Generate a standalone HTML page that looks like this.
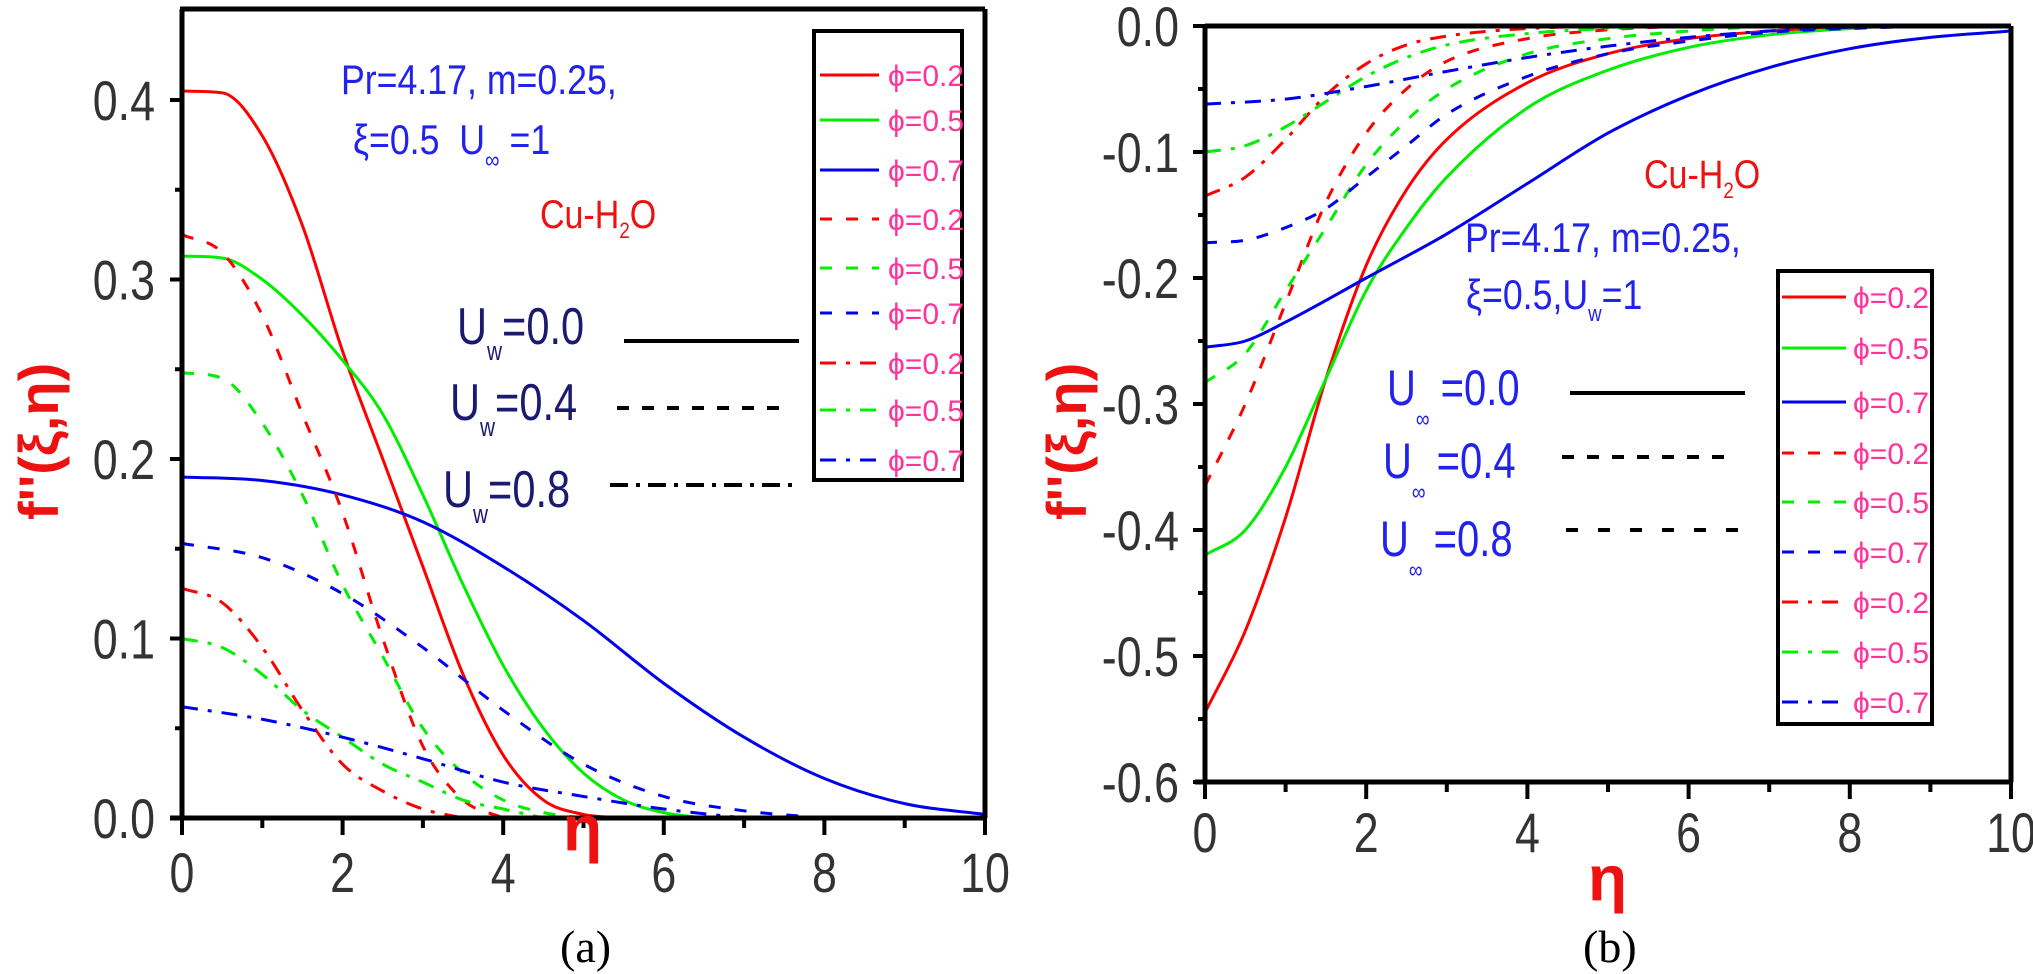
<!DOCTYPE html>
<html><head><meta charset="utf-8">
<style>
html,body{margin:0;padding:0;background:#fff;}
svg{display:block;}
text{font-family:"Liberation Sans",sans-serif;}
.tk{font-size:56px;fill:#333;}
.ph{font-size:30px;fill:#ff3399;}
</style></head>
<body>
<svg id="s" width="2033" height="974" viewBox="0 0 2033 974" xmlns="http://www.w3.org/2000/svg">
<g id="curves" fill="none" stroke-width="3"></g>
<g stroke="#000" stroke-width="5" fill="none">
<line x1="182" y1="9" x2="182" y2="818"/>
<line x1="170" y1="818" x2="985" y2="818"/>
<line x1="180" y1="9" x2="985" y2="9"/>
<line x1="985" y1="9" x2="985" y2="818"/>
<rect x="814" y="31" width="148" height="449" stroke-width="4"/>
<line x1="1205" y1="26" x2="1205" y2="782"/>
<line x1="1205" y1="26" x2="2011" y2="26"/>
<line x1="2011" y1="26" x2="2011" y2="782"/>
<line x1="1195" y1="782" x2="2011" y2="782"/>
<rect x="1778" y="271" width="154" height="453" stroke-width="4"/>
</g>
<g id="ticks" stroke="#000" stroke-width="4"></g>
<g id="labels"></g>

<text x="341" y="94" font-size="42" fill="#2222ee" transform="translate(341,94) scale(0.85,1) translate(-341,-94)">Pr=4.17, m=0.25,</text>
<text x="353" y="154" font-size="42" fill="#2222ee" transform="translate(353,154) scale(0.85,1) translate(-353,-154)">ξ=0.5&#160;&#160;U<tspan font-size="24" dy="14">∞</tspan><tspan dy="-14"> =1</tspan></text>
<text x="540" y="228" font-size="40" fill="#ee1111" transform="translate(540,228) scale(0.85,1) translate(-540,-228)">Cu-H<tspan font-size="22" dy="10">2</tspan><tspan dy="-10">O</tspan></text>
<g fill="#1a1a70" font-size="52">
<text x="457" y="344" transform="translate(457,344) scale(0.8,1) translate(-457,-344)">U<tspan font-size="26" dy="16">w</tspan><tspan dy="-16">=0.0</tspan></text>
<text x="450" y="420" transform="translate(450,420) scale(0.8,1) translate(-450,-420)">U<tspan font-size="26" dy="16">w</tspan><tspan dy="-16">=0.4</tspan></text>
<text x="443" y="507" transform="translate(443,507) scale(0.8,1) translate(-443,-507)">U<tspan font-size="26" dy="16">w</tspan><tspan dy="-16">=0.8</tspan></text>
</g>
<g stroke="#000" stroke-width="4">
<line x1="624" y1="341" x2="799" y2="341"/>
<line x1="617" y1="408" x2="785" y2="408" stroke-dasharray="12 13"/>
<line x1="610" y1="485" x2="800" y2="485" stroke-dasharray="18 8 4 8"/>
</g>
<text x="1644" y="188" font-size="40" fill="#ee1111" transform="translate(1644,188) scale(0.85,1) translate(-1644,-188)">Cu-H<tspan font-size="22" dy="10">2</tspan><tspan dy="-10">O</tspan></text>
<text x="1465" y="252" font-size="42" fill="#2222ee" transform="translate(1465,252) scale(0.85,1) translate(-1465,-252)">Pr=4.17, m=0.25,</text>
<text x="1466" y="309" font-size="42" fill="#2222ee" transform="translate(1466,309) scale(0.85,1) translate(-1466,-309)">ξ=0.5,U<tspan font-size="22" dy="12">w</tspan><tspan dy="-12">=1</tspan></text>
<g fill="#2222ee" font-size="50">
<text x="1387" y="405" transform="translate(1387,405) scale(0.8,1) translate(-1387,-405)">U<tspan font-size="24" dy="22">∞</tspan><tspan dy="-22"> =0.0</tspan></text>
<text x="1383" y="478" transform="translate(1383,478) scale(0.8,1) translate(-1383,-478)">U<tspan font-size="24" dy="22">∞</tspan><tspan dy="-22"> =0.4</tspan></text>
<text x="1380" y="556" transform="translate(1380,556) scale(0.8,1) translate(-1380,-556)">U<tspan font-size="24" dy="22">∞</tspan><tspan dy="-22"> =0.8</tspan></text>
</g>
<g stroke="#000" stroke-width="4">
<line x1="1570" y1="393" x2="1745" y2="393"/>
<line x1="1562" y1="457" x2="1731" y2="457" stroke-dasharray="12 13"/>
<line x1="1566" y1="530" x2="1742" y2="530" stroke-dasharray="12 20"/>
</g>
<text font-size="56" font-weight="bold" fill="#ee1111" transform="translate(58,520) rotate(-90)">f''(ξ,η)</text>
<text font-size="56" font-weight="bold" fill="#ee1111" transform="translate(1086,520) rotate(-90)">f''(ξ,η)</text>
<text x="563" y="850" font-size="64" font-weight="bold" fill="#ee1111">η</text>
<text x="1588" y="900" font-size="64" font-weight="bold" fill="#ee1111">η</text>
<text x="560" y="962" font-size="46" fill="#000" style="font-family:'Liberation Serif',serif">(a)</text>
<text x="1583" y="962" font-size="46" fill="#000" style="font-family:'Liberation Serif',serif">(b)</text>
</svg>
<script>
var NS="http://www.w3.org/2000/svg";
function el(p,t,a,txt){var e=document.createElementNS(NS,t);for(var k in a)e.setAttribute(k,a[k]);if(txt!==undefined)e.textContent=txt;document.getElementById(p).appendChild(e);return e;}
var R="#ff0000",G="#00ee00",B="#0000ee";
var D={solid:"",dash:"12 14",dd:"16 10 4 10"};
function path(pts,fx,fy){
 var n=pts.length,xs=pts.map(function(p){return p[0]}),ys=pts.map(function(p){return p[1]});
 var d=[],m=[];for(var i=0;i<n-1;i++)d.push((ys[i+1]-ys[i])/(xs[i+1]-xs[i]));
 m[0]=d[0];m[n-1]=d[n-2];
 for(var i=1;i<n-1;i++){m[i]=(d[i-1]*d[i]<=0)?0:(d[i-1]+d[i])/2;}
 for(var i=0;i<n-1;i++){if(d[i]==0){m[i]=0;m[i+1]=0;}else{var a=m[i]/d[i],b=m[i+1]/d[i],s=a*a+b*b;if(s>9){var t=3/Math.sqrt(s);m[i]=t*a*d[i];m[i+1]=t*b*d[i];}}}
 var out="M"+fx(xs[0])+","+fy(ys[0]);
 for(var i=0;i<n-1;i++){var h=xs[i+1]-xs[i];
  out+=" C"+fx(xs[i]+h/3)+","+fy(ys[i]+m[i]*h/3)+" "+fx(xs[i+1]-h/3)+","+fy(ys[i+1]-m[i+1]*h/3)+" "+fx(xs[i+1])+","+fy(ys[i+1]);}
 return out;}
var L=[
[R,"solid",[[0,.405],[0.5,.404],[1,.38],[1.5,.33],[2,.26],[2.5,.2],[3,.14],[3.5,.08],[4,.035],[4.5,.01],[5,.002],[5.5,0]]],
[G,"solid",[[0,.313],[0.5,.312],[1,.30],[1.5,.28],[2,.255],[2.5,.225],[3,.18],[3.5,.13],[4,.085],[4.5,.05],[5,.025],[5.5,.01],[6,.003],[6.5,0]]],
[B,"solid",[[0,.19],[1,.188],[2,.18],[3,.165],[4,.14],[5,.11],[6,.075],[7,.045],[8,.022],[9,.008],[10,.002]]],
[R,"dash",[[0,.325],[0.5,.315],[1,.28],[1.5,.225],[2,.17],[2.5,.10],[3,.04],[3.5,.01],[4,0]]],
[G,"dash",[[0,.248],[0.5,.245],[1,.22],[1.5,.18],[2,.13],[2.5,.09],[3,.05],[3.5,.025],[4,.01],[4.5,.003],[5,0]]],
[B,"dash",[[0,.153],[1,.145],[2,.125],[3,.095],[4,.06],[5,.03],[6,.012],[7,.004],[8,0]]],
[R,"dd",[[0,.128],[0.5,.12],[1,.095],[1.5,.06],[2,.03],[2.5,.015],[3,.005],[3.5,0]]],
[G,"dd",[[0,.1],[0.5,.095],[1,.08],[1.5,.06],[2,.045],[2.5,.03],[3,.02],[3.5,.01],[4,.005],[4.5,0]]],
[B,"dd",[[0,.062],[1,.055],[2,.045],[3,.033],[4,.02],[5,.012],[6,.005],[7,0]]]];
var Rr=[
[R,"solid",[[0,-.545],[0.5,-.48],[1,-.39],[1.5,-.28],[2,-.19],[2.5,-.13],[3,-.09],[4,-.045],[5,-.022],[6,-.01],[7,-.004],[8,0]]],
[G,"solid",[[0,-.42],[0.5,-.40],[1,-.35],[1.5,-.28],[2,-.21],[2.5,-.16],[3,-.12],[4,-.065],[5,-.035],[6,-.017],[7,-.007],[8,-.002],[8.5,0]]],
[B,"solid",[[0,-.255],[0.5,-.25],[1,-.235],[2,-.2],[3,-.165],[4,-.125],[5,-.085],[6,-.055],[7,-.033],[8,-.018],[9,-.009],[10,-.004]]],
[R,"dash",[[0,-.365],[0.5,-.30],[1,-.22],[1.5,-.14],[2,-.085],[2.5,-.05],[3,-.028],[4,-.01],[5,-.003],[6,0]]],
[G,"dash",[[0,-.283],[0.5,-.26],[1,-.21],[1.5,-.16],[2,-.11],[2.5,-.075],[3,-.05],[4,-.022],[5,-.01],[6,-.004],[7,0]]],
[B,"dash",[[0,-.172],[0.5,-.17],[1,-.16],[1.5,-.145],[2,-.12],[2.5,-.095],[3,-.07],[4,-.04],[5,-.022],[6,-.012],[7,-.005],[8,-.002],[9,0]]],
[R,"dd",[[0,-.135],[0.5,-.12],[1,-.09],[1.5,-.055],[2,-.03],[2.5,-.015],[3,-.008],[4,-.002],[5,0]]],
[G,"dd",[[0,-.1],[0.5,-.095],[1,-.08],[1.5,-.06],[2,-.04],[2.5,-.025],[3,-.015],[4,-.006],[5,-.002],[6,0]]],
[B,"dd",[[0,-.062],[1,-.058],[2,-.048],[3,-.036],[4,-.025],[5,-.016],[6,-.009],[7,-.004],[8,-.001],[9,0]]]];
var lx=function(e){return 182+80.3*e},ly=function(v){return 818-1795*v};
var rx=function(e){return 1205+80.6*e},ry=function(v){return 26-1260*v};
L.forEach(function(c){el("curves","path",{d:path(c[2],lx,ly),stroke:c[0],"stroke-dasharray":D[c[1]]})});
Rr.forEach(function(c){el("curves","path",{d:path(c[2],rx,ry),stroke:c[0],"stroke-dasharray":D[c[1]]})});
var phis=["0.2","0.5","0.7"];
var ly1=[75,120,170,219,268,313,363,410,460],ry1=[297,348,402,453,502,552,602,652,702];
L.forEach(function(c,i){el("curves","line",{x1:820,x2:879,y1:ly1[i],y2:ly1[i],stroke:c[0],"stroke-dasharray":D[c[1]]});
el("labels","text",{x:888,y:ly1[i]+11,"class":"ph"},"ϕ="+phis[i%3]);});
Rr.forEach(function(c,i){el("curves","line",{x1:1782,x2:1846,y1:ry1[i],y2:ry1[i],stroke:c[0],"stroke-dasharray":D[c[1]]});
el("labels","text",{x:1853,y:ry1[i]+11,"class":"ph"},"ϕ="+phis[i%3]);});
function tk(x1,y1,x2,y2){el("ticks","line",{x1:x1,y1:y1,x2:x2,y2:y2});}
function lab(x,y,t,anc){el("labels","text",{x:0,y:0,"class":"tk","text-anchor":anc,transform:"translate("+x+","+y+") scale(0.8,1)"},t);}
for(var i=0;i<=10;i++){var x=lx(i);tk(x,818,x,i%2?828:835);var x2=rx(i);tk(x2,782,x2,i%2?792:799);
if(i%2==0){lab(x,892,String(i),"middle");lab(x2,852,String(i),"middle");}}
for(var i=0;i<=8;i++){var v=i*0.05;var y=ly(v);tk(182,y,i%2?175:170,y);if(i%2==0)lab(155,y+20,(v).toFixed(1),"end");}
for(var i=0;i<=12;i++){var v=-i*0.05;var y=ry(v);tk(1205,y,i%2?1198:1193,y);if(i%2==0)lab(1179,y+20,(i==0?"0.0":"-"+(i*0.05).toFixed(1)),"end");}
</script>
</body></html>
